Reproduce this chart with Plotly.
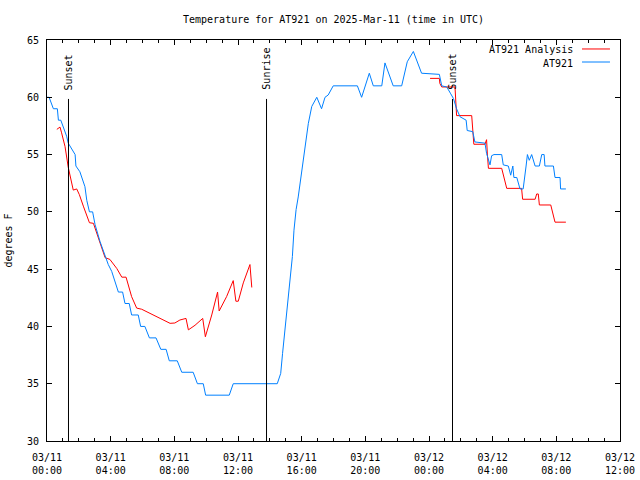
import plotly.graph_objects as go

# ---- data ----
obs_times = [
    "2025-03-11 00:00", "2025-03-11 00:08", "2025-03-11 00:24", "2025-03-11 00:39", "2025-03-11 00:43",
    "2025-03-11 00:52", "2025-03-11 01:14", "2025-03-11 01:20", "2025-03-11 01:46", "2025-03-11 01:49",
    "2025-03-11 02:04", "2025-03-11 02:23", "2025-03-11 02:30", "2025-03-11 02:40", "2025-03-11 02:52",
    "2025-03-11 03:01", "2025-03-11 03:20", "2025-03-11 03:39", "2025-03-11 03:51", "2025-03-11 04:04",
    "2025-03-11 04:16", "2025-03-11 04:29", "2025-03-11 04:45", "2025-03-11 04:54", "2025-03-11 05:10",
    "2025-03-11 05:19", "2025-03-11 05:44", "2025-03-11 05:53", "2025-03-11 06:09", "2025-03-11 06:26",
    "2025-03-11 06:51", "2025-03-11 07:09", "2025-03-11 07:29", "2025-03-11 07:41", "2025-03-11 08:11",
    "2025-03-11 08:28", "2025-03-11 09:11", "2025-03-11 09:27", "2025-03-11 09:49", "2025-03-11 09:58",
    "2025-03-11 11:27", "2025-03-11 11:42", "2025-03-11 14:28", "2025-03-11 14:41", "2025-03-11 14:48",
    "2025-03-11 14:57", "2025-03-11 15:06", "2025-03-11 15:16", "2025-03-11 15:25", "2025-03-11 15:31",
    "2025-03-11 15:39", "2025-03-11 15:47", "2025-03-11 15:56", "2025-03-11 16:04", "2025-03-11 16:13",
    "2025-03-11 16:25", "2025-03-11 16:38", "2025-03-11 16:57", "2025-03-11 17:15", "2025-03-11 17:28",
    "2025-03-11 17:40", "2025-03-11 17:59", "2025-03-11 19:30", "2025-03-11 19:46", "2025-03-11 20:15",
    "2025-03-11 20:30", "2025-03-11 21:02", "2025-03-11 21:14", "2025-03-11 21:45", "2025-03-11 22:17",
    "2025-03-11 22:38", "2025-03-11 23:01", "2025-03-11 23:32", "2025-03-12 00:39", "2025-03-12 00:48",
    "2025-03-12 01:07", "2025-03-12 01:22", "2025-03-12 01:32", "2025-03-12 01:44", "2025-03-12 01:57",
    "2025-03-12 02:20", "2025-03-12 02:24", "2025-03-12 02:45", "2025-03-12 02:53", "2025-03-12 03:31",
    "2025-03-12 03:37", "2025-03-12 03:50", "2025-03-12 03:56", "2025-03-12 04:05", "2025-03-12 04:34",
    "2025-03-12 04:40", "2025-03-12 04:59", "2025-03-12 05:08", "2025-03-12 05:16", "2025-03-12 05:20",
    "2025-03-12 05:31", "2025-03-12 05:43", "2025-03-12 05:55", "2025-03-12 06:06", "2025-03-12 06:11",
    "2025-03-12 06:18", "2025-03-12 06:27", "2025-03-12 06:40", "2025-03-12 06:56", "2025-03-12 07:05",
    "2025-03-12 07:14", "2025-03-12 07:17", "2025-03-12 07:49", "2025-03-12 07:55", "2025-03-12 08:14",
    "2025-03-12 08:16", "2025-03-12 08:36",
]
obs_temps = [
    60, 60, 59, 59, 58,
    58, 56.6, 56, 55, 54,
    53.5, 52.2, 51, 50, 50,
    48.9, 47.4, 46.1, 45.4, 44.8,
    44, 43, 43, 42, 42,
    41, 41, 40, 40, 39,
    39, 38, 38, 37, 37,
    36, 36, 35, 35, 34,
    34, 35, 35, 35.9, 37.65,
    39.7, 41.4, 43.8, 46.1, 48.4,
    50.2, 51.3, 52.8, 54.2, 56,
    57.7, 59.2, 60, 59, 60,
    60.2, 61, 61, 60, 62.1,
    61, 61, 63, 61, 61,
    63.1, 64, 62.1, 62, 61,
    60.9, 60.3, 59.9, 59, 58.3,
    58, 57.1, 57, 56.1, 56,
    55.1, 54.1, 54.9, 55, 55,
    54.1, 54, 53.2, 54, 53,
    53, 52, 52, 54, 55,
    54.5, 55, 54, 54, 55,
    55, 54, 54, 53, 53,
    52, 52,
]

ana_times = [
    "2025-03-11 00:37", "2025-03-11 00:49", "2025-03-11 00:55", "2025-03-11 01:08", "2025-03-11 01:20",
    "2025-03-11 01:33", "2025-03-11 01:39", "2025-03-11 01:52", "2025-03-11 02:02", "2025-03-11 02:17",
    "2025-03-11 02:30", "2025-03-11 02:40", "2025-03-11 02:55", "2025-03-11 03:20", "2025-03-11 03:39",
    "2025-03-11 03:57", "2025-03-11 04:23", "2025-03-11 04:42", "2025-03-11 04:58", "2025-03-11 05:19",
    "2025-03-11 05:38", "2025-03-11 05:57", "2025-03-11 06:22", "2025-03-11 06:47", "2025-03-11 07:18",
    "2025-03-11 07:44", "2025-03-11 08:02", "2025-03-11 08:21", "2025-03-11 08:44", "2025-03-11 08:53",
    "2025-03-11 09:18", "2025-03-11 09:47", "2025-03-11 09:57", "2025-03-11 10:21", "2025-03-11 10:43",
    "2025-03-11 10:49", "2025-03-11 11:17", "2025-03-11 11:42", "2025-03-11 11:52", "2025-03-11 12:01",
    "2025-03-11 12:20", "2025-03-11 12:45", "2025-03-11 12:52", "2025-03-11 18:00",
    "2025-03-12 00:04", "2025-03-12 00:39", "2025-03-12 00:41", "2025-03-12 00:48", "2025-03-12 01:38",
    "2025-03-12 01:42", "2025-03-12 01:44", "2025-03-12 02:41", "2025-03-12 02:45", "2025-03-12 02:49",
    "2025-03-12 03:31", "2025-03-12 03:37", "2025-03-12 03:40", "2025-03-12 03:44", "2025-03-12 04:34",
    "2025-03-12 04:43", "2025-03-12 04:53", "2025-03-12 05:49", "2025-03-12 05:53", "2025-03-12 06:40",
    "2025-03-12 06:46", "2025-03-12 06:52", "2025-03-12 06:56", "2025-03-12 07:39", "2025-03-12 07:49",
    "2025-03-12 07:55", "2025-03-12 08:36",
]
ana_temps = [
    57.2, 57.4, 56.9, 55.7, 53.9,
    52.5, 51.9, 52, 51.5, 50.5,
    49.7, 49.05, 49, 47.2, 46,
    45.85, 45.06, 44.3, 44.3, 42.6,
    41.6, 41.5, 41.2, 40.9, 40.56,
    40.27, 40.3, 40.56, 40.7, 39.7,
    40.1, 40.7, 39.1, 41, 43,
    41.35, 42.6, 44, 42.2, 42.2,
    43.8, 45.4, 43.4, None,
    61.65, 61.65, 61.2, 60.9, 60.9,
    59.7, 58.4, 58.4, 57.1, 55.9,
    55.9, 56.3, 55.05, 53.8, 53.8,
    53.07, 52.05, 52.05, 51.1, 51.1,
    51.56, 51.56, 50.6, 50.6, 49.7,
    49.1, 49.1,
]

event_times = ["2025-03-11 01:21:00", "2025-03-11 13:47:30", "2025-03-12 01:28:36"]
event_labels = ["Sunset", "Sunrise", "Sunset"]

series_names = ["AT921 Analysis", "AT921"]
series_colors = ["#ff0000", "#0080ff"]

title_text = "Temperature for AT921 on 2025-Mar-11 (time in UTC)"
y_title = "degrees F"

FONT = "DejaVu Sans Mono"

fig = go.Figure()
fig.add_trace(go.Scatter(x=ana_times, y=ana_temps, mode="lines", name=series_names[0],
                         line=dict(color=series_colors[0], width=1), connectgaps=False,
                         showlegend=False))
fig.add_trace(go.Scatter(x=obs_times, y=obs_temps, mode="lines", name=series_names[1],
                         line=dict(color=series_colors[1], width=1),
                         showlegend=False))

# vertical event lines + labels
for t, lab in zip(event_times, event_labels):
    fig.add_shape(type="line", xref="x", yref="y domain", x0=t, x1=t, y0=0, y1=0.853,
                  line=dict(color="black", width=1))
    fig.add_annotation(x=t, xref="x", y=0.87, yref="y domain", text=lab, textangle=-90,
                       showarrow=False, xanchor="center", yanchor="bottom",
                       font=dict(family=FONT, size=10, color="black"))

# manual legend (text right, sample line on right)
leg_y = [0.9776, 0.9451]
for name, col, yy in zip(series_names, series_colors, leg_y):
    fig.add_annotation(x=0.9215, xref="paper", y=yy, yref="paper", text=name, showarrow=False,
                       xanchor="right", yanchor="middle", yshift=-1,
                       font=dict(family=FONT, size=10, color="black"))
    fig.add_shape(type="line", xref="paper", yref="paper", x0=0.9337, x1=0.9825, y0=yy, y1=yy,
                  line=dict(color=col, width=1))

fig.update_layout(
    width=640, height=480,
    margin=dict(l=47, r=20, t=40, b=39, autoexpand=False),
    paper_bgcolor="white", plot_bgcolor="white",
    font=dict(family=FONT, size=10, color="black"),
    title=dict(text=title_text, x=0.5, xref="paper", xanchor="center", y=0.96, yref="container",
               yanchor="middle", automargin=False, font=dict(family=FONT, size=10, color="black")),
    showlegend=False,
)
fig.update_xaxes(
    type="date", range=["2025-03-11 00:00", "2025-03-12 12:00"],
    tick0="2025-03-11 00:00", dtick=4 * 3600000, tickformat="%m/%d<br>%H:%M",
    ticks="inside", ticklen=5, tickcolor="black", tickwidth=1,
    minor=dict(dtick=3600000, ticks="inside", ticklen=3, tickcolor="black", tickwidth=1, showgrid=False),
    showline=True, linecolor="black", linewidth=1, mirror="ticks",
    showgrid=False, zeroline=False, automargin=False, ticklabelstandoff=7,
    tickfont=dict(family=FONT, size=10, color="black"),
)
fig.update_yaxes(
    range=[30, 65], dtick=5, tick0=30,
    ticks="inside", ticklen=5, tickcolor="black", tickwidth=1,
    showline=True, linecolor="black", linewidth=1, mirror="ticks",
    showgrid=False, zeroline=False, automargin=False, ticklabelstandoff=5,
    title=dict(text=y_title, font=dict(family=FONT, size=10, color="black"), standoff=12),
    tickfont=dict(family=FONT, size=10, color="black"),
)

fig.write_html("out.html", config={"displayModeBar": False},
               post_script="document.body.style.margin='0';")
